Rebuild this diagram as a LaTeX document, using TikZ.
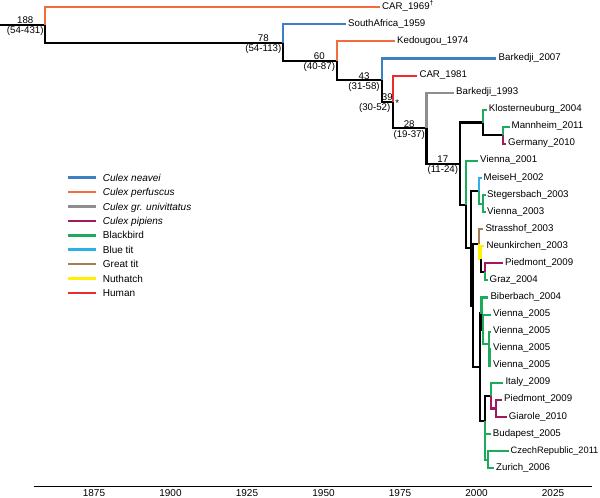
\documentclass[tikz,border=0pt]{standalone}
\usepackage{fontspec}
\setmainfont{Liberation Sans}
\usetikzlibrary{calc}
\definecolor{cneavei}{HTML}{3C7FC2}
\definecolor{cperf}{HTML}{F26D3D}
\definecolor{cuniv}{HTML}{8E8E8E}
\definecolor{cpip}{HTML}{A0195E}
\definecolor{cbb}{HTML}{1DAA5A}
\definecolor{cbt}{HTML}{2AB2E8}
\definecolor{cgt}{HTML}{A67C52}
\definecolor{cnut}{HTML}{FFF100}
\definecolor{chum}{HTML}{EE2B2B}
\begin{document}
\begin{tikzpicture}[x=1pt,y=-1pt,
  br/.style={line width=2.1pt, line cap=butt, line join=miter},
  bk/.style={br, black},
  tl/.style={font=\fontsize{9.7}{11}\selectfont, inner sep=0pt, anchor=base west},
  nu/.style={font=\fontsize{9.7}{11}\selectfont, inner sep=0pt, anchor=base},
  nl/.style={font=\fontsize{9.7}{11}\selectfont, inner sep=0pt, anchor=base east},
  lg/.style={line width=2.6pt},
  lgt/.style={font=\fontsize{10}{12}\selectfont, inner sep=0pt, anchor=base west},
  ax/.style={font=\fontsize{10}{12}\selectfont, inner sep=0pt, anchor=base},
]
\useasboundingbox (0,0) rectangle (600,498);
% internal nodes
\coordinate (r0) at (0,24.95);
\coordinate (n188) at (45,24.95);
\coordinate (n78) at (283.3,42.6);
\coordinate (n60) at (337,60.8);
\coordinate (n43) at (381.7,80.2);
\coordinate (n39) at (393.3,101.85);
\coordinate (n28) at (426.5,128.1);
\coordinate (n17) at (459.8,163.55);
\coordinate (nA) at (482.7,122.5);
\coordinate (nB) at (502.7,135.35);
\coordinate (nC) at (466,204.6);
\coordinate (nX) at (470.7,248.3);
\coordinate (nE) at (479.3,190.8);
\coordinate (nF) at (483.3,203.6);
\coordinate (nY) at (473.3,305.75);
\coordinate (nH) at (479.3,244.15);
\coordinate (nI) at (480.7,259.1);
\coordinate (nJ) at (485,271.9);
\coordinate (nZ) at (480,367.35);
\coordinate (nQ) at (481.5,313.5);
\coordinate (nR) at (482.7,329.5);
\coordinate (nS) at (489,344.4);
\coordinate (nS2) at (489.5,357.25);
\coordinate (nW) at (485,421.2);
\coordinate (nV) at (490.7,395.6);
\coordinate (nPG) at (496,408.45);
\coordinate (nU) at (485,446.8);
\coordinate (nT) at (488.3,459.65);
% tips
\coordinate (t1) at (380,7.3);
\coordinate (t2) at (346,24.4);
\coordinate (t3) at (395,41.4);
\coordinate (t4) at (496,58.5);
\coordinate (t5) at (417.3,75.6);
\coordinate (t6) at (454,92.6);
\coordinate (t7) at (486.7,109.7);
\coordinate (t8) at (509.5,126.8);
\coordinate (t9) at (506,143.9);
\coordinate (t10) at (478,160.9);
\coordinate (t11) at (481.5,178.0);
\coordinate (t12) at (485.5,195.1);
\coordinate (t13) at (485.5,212.1);
\coordinate (t14) at (483.3,229.2);
\coordinate (t15) at (484.3,246.3);
\coordinate (t16) at (503,263.4);
\coordinate (t17) at (487.5,280.4);
\coordinate (t18) at (488.3,297.5);
\coordinate (t19) at (491,314.6);
\coordinate (t20) at (491,331.6);
\coordinate (t21) at (491,348.7);
\coordinate (t22) at (491,365.8);
\coordinate (t23) at (503.3,382.8);
\coordinate (t24) at (502,399.9);
\coordinate (t25) at (506.7,417.0);
\coordinate (t26) at (490.7,434.0);
\coordinate (t27) at (509,451.1);
\coordinate (t28) at (494,468.2);
% branches
\draw[bk] (r0) -- (n188);
\draw[br,cperf] (n188) |- (t1);
\draw[bk] (n188) |- (n78);
\draw[br,cneavei] (n78) |- (t2);
\draw[bk] (n78) |- (n60);
\draw[br,cperf] (n60) |- (t3);
\draw[bk] (n60) |- (n43);
\draw[br,cneavei] (n43) |- (t4);
\draw[bk] (n43) |- (n39);
\draw[br,chum] (n39) |- (t5);
\draw[bk] (n39) |- (n28);
\draw[br,cuniv] (n28) |- (t6);
\draw[bk] (n28) |- (n17);
\draw[bk] (n17) |- (nA);
\draw[bk] (n17) |- (nC);
\draw[br,cbb] (nA) |- (t7);
\draw[bk] (nA) |- (nB);
\draw[br,cbb] (nB) |- (t8);
\draw[br,cpip] (nB) |- (t9);
\draw[br,cbb] (nC) |- (t10);
\draw[bk] (nC) |- (nX);
\draw[bk] (nX) |- (nE);
\draw[bk] (nX) |- (nY);
\draw[br,cbt] (nE) |- (t11);
\draw[br,cbb] (nE) |- (nF);
\draw[br,cbb] (nF) |- (t12);
\draw[br,cbb] (nF) |- (t13);
\draw[bk] (nY) |- (nH);
\draw[bk] (nY) |- (nZ);
\draw[br,cgt] (nH) |- (t14);
\draw[br,cnut] (nH) |- (nI);
\draw[br,cnut] (nI) |- (t15);
\draw[bk] (nI) |- (nJ);
\draw[br,cpip] (nJ) |- (t16);
\draw[br,cbb] (nJ) |- (t17);
\draw[bk] (nZ) |- (nQ);
\draw[bk] (nZ) |- (nW);
\draw[br,cbb] (nQ) |- (t18);
\draw[bk] (nQ) |- (nR);
\draw[br,cbb] (nR) |- (t19);
\draw[br,cbb] (nR) |- (nS);
\draw[br,cbb] (nS) |- (t20);
\draw[br,cbb] (nS) |- (nS2);
\draw[br,cbb] (nS2) |- (t21);
\draw[br,cbb] (nS2) |- (t22);
\draw[bk] (nW) |- (nV);
\draw[br,cbb] (nW) |- (nU);
\draw[br,cbb] (nV) |- (t23);
\draw[br,cpip] (nV) |- (nPG);
\draw[br,cpip] (nPG) |- (t24);
\draw[br,cpip] (nPG) |- (t25);
\draw[br,cbb] (nU) |- (t26);
\draw[br,cbb] (nU) |- (nT);
\draw[br,cbb] (nT) |- (t27);
\draw[br,cbb] (nT) |- (t28);
% tip labels
\node[tl] (L1) at ($(t1)+(2,2)$) {CAR\_1969\textsuperscript{\textdagger}};
\node[tl] (L2) at ($(t2)+(2,2)$) {SouthAfrica\_1959};
\node[tl] (L3) at ($(t3)+(2,2)$) {Kedougou\_1974};
\node[tl] (L4) at ($(t4)+(2.5,2)$) {Barkedji\_2007};
\node[tl] (L5) at ($(t5)+(2,2)$) {CAR\_1981};
\node[tl] (L6) at ($(t6)+(2,2)$) {Barkedji\_1993};
\node[tl] (L7) at ($(t7)+(2,2)$) {Klosterneuburg\_2004};
\node[tl] (L8) at ($(t8)+(2,2)$) {Mannheim\_2011};
\node[tl] (L9) at ($(t9)+(2,2)$) {Germany\_2010};
\node[tl] (L10) at ($(t10)+(2,2)$) {Vienna\_2001};
\node[tl] (L11) at ($(t11)+(2,2)$) {MeiseH\_2002};
\node[tl] (L12) at ($(t12)+(1.5,2)$) {Stegersbach\_2003};
\node[tl] (L13) at ($(t13)+(1.5,2)$) {Vienna\_2003};
\node[tl] (L14) at ($(t14)+(2,2)$) {Strasshof\_2003};
\node[tl] (L15) at ($(t15)+(2,2)$) {Neunkirchen\_2003};
\node[tl] (L16) at ($(t16)+(2,2)$) {Piedmont\_2009};
\node[tl] (L17) at ($(t17)+(2,2)$) {Graz\_2004};
\node[tl] (L18) at ($(t18)+(2,2)$) {Biberbach\_2004};
\node[tl] (L19) at ($(t19)+(2,2)$) {Vienna\_2005};
\node[tl] (L20) at ($(t20)+(2,2)$) {Vienna\_2005};
\node[tl] (L21) at ($(t21)+(2,2)$) {Vienna\_2005};
\node[tl] (L22) at ($(t22)+(2,2)$) {Vienna\_2005};
\node[tl] (L23) at ($(t23)+(2,2)$) {Italy\_2009};
\node[tl] (L24) at ($(t24)+(2,2)$) {Piedmont\_2009};
\node[tl] (L25) at ($(t25)+(2,2)$) {Giarole\_2010};
\node[tl] (L26) at ($(t26)+(2,2)$) {Budapest\_2005};
\node[tl, font=\fontsize{9.3}{11}\selectfont] (L27) at ($(t27)+(1.5,2)$) {CzechRepublic\_2011};
\node[tl] (L28) at ($(t28)+(2,2)$) {Zurich\_2006};
% node age labels
\node[nl] (d188) at ($(n188)+(-1.2,9)$) {(54-431)};
\node[nu] (a188) at ($(d188.base)+(0,-10)$) {188};
\node[nl] (d78) at ($(n78)+(-1.8,9)$) {(54-113)};
\node[nu] (a78) at ($(d78.base)+(0,-10)$) {78};
\node[nl] (d60) at ($(n60)+(-1.8,9)$) {(40-87)};
\node[nu] (a60) at ($(d60.base)+(0,-10)$) {60};
\node[nl] (d43) at ($(n43)+(-1.8,9)$) {(31-58)};
\node[nu] (a43) at ($(d43.base)+(0,-10)$) {43};
\node[nl] (d39) at ($(n39)+(-2.8,9)$) {(30-52)};
\node[nu] (a39) at ($(n39)+(-6,-1)$) {39};
\node[nu] (ast) at ($(n39)+(4,5)$) {*};
\node[nl] (d28) at ($(n28)+(-1.5,9)$) {(19-37)};
\node[nu] (a28) at ($(d28.base)+(0,-10)$) {28};
\node[nl] (d17) at ($(n17)+(-1.5,9)$) {(11-24)};
\node[nu] (a17) at ($(d17.base)+(0,-10)$) {17};
% legend
\foreach \c/\t [count=\i] in {cneavei/\textit{Culex neavei}, cperf/\textit{Culex perfuscus}, cuniv/\textit{Culex gr. univittatus}, cpip/\textit{Culex pipiens}, cbb/Blackbird, cbt/Blue tit, cgt/Great tit, cnut/Nuthatch, chum/Human}{
  \draw[lg,\c] (68.3,{177.7+14.4*(\i-1)}) -- ++(27.4,0);
  \node[lgt] (leg\i) at (102.7,{181.3+14.4*(\i-1)}) {\t};
}
% axis
\coordinate (axL) at (33.7,486.5);
\coordinate (axR) at (592,486.5);
\draw[line width=1.2pt] (axL) -- (axR);
\foreach \yr [count=\k from 0] in {1875,1900,1925,1950,1975,2000,2025}{
  \node[ax] (yr\yr) at ({94+76.5*\k},496) {\yr};
}
\end{tikzpicture}
\end{document}
